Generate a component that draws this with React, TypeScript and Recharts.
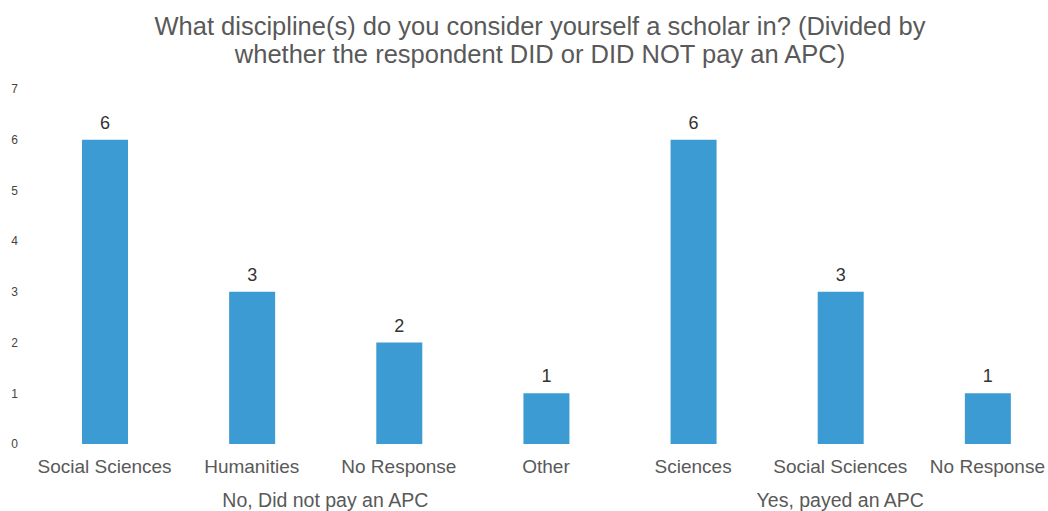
import React from "react";
import { BarChart, Bar, XAxis, YAxis, LabelList } from "recharts";

// Discipline counts split by whether the respondent paid an APC
const categories = [
  "Social Sciences",
  "Humanities",
  "No Response",
  "Other",
  "Sciences",
  "Social Sciences",
  "No Response",
];
const counts = [6, 3, 2, 1, 6, 3, 1];
const groupLabels = ["No, Did not pay an APC", "Yes, payed an APC"];
// group index of each category
const groupOf = [0, 0, 0, 0, 1, 1, 1];
const yTicks = [0, 1, 2, 3, 4, 5, 6, 7];

const data = categories.map((name, i) => ({ id: i, name, count: counts[i], group: groupOf[i] }));

const CHART_W = 1064;
const CHART_H = 511;
const X_AXIS_H = 30;
const MARGIN = { top: 89, right: 3, left: 0, bottom: 67 - X_AXIS_H };
const Y_AXIS_W = 31;
const PLOT_W = CHART_W - MARGIN.left - MARGIN.right - Y_AXIS_W;
const BAND = PLOT_W / categories.length;

const TEXT = "#595959";

const CategoryTick = (props: any) => {
  const { x, y, payload } = props;
  const i = payload.index;
  const g = groupOf[i];
  const members = groupOf.map((v, k) => (v === g ? k : -1)).filter((k) => k >= 0);
  const first = members[0];
  const last = members[members.length - 1];
  const isAnchor = i === first;
  const groupCenter = x + ((first + last) / 2 - i) * BAND;
  return (
    <g>
      <text x={x} y={y} dy={21} textAnchor="middle" fontSize={19} fill={TEXT}>
        {categories[i]}
      </text>
      {isAnchor && (
        <text x={groupCenter} y={y} dy={55} textAnchor="middle" fontSize={19.5} fill={TEXT}>
          {groupLabels[g]}
        </text>
      )}
    </g>
  );
};

export default function App() {
  return (
    <div
      style={{
        position: "absolute",
        left: 0,
        top: 0,
        width: 1048,
        height: 511,
        overflow: "hidden",
        background: "#fff",
        fontFamily: "'Liberation Sans', Arial, sans-serif",
      }}
    >
      <div
        style={{
          position: "absolute",
          left: 0,
          top: 12,
          width: 1080,
          textAlign: "center",
          fontSize: 25.5,
          lineHeight: "28px",
          color: TEXT,
        }}
      >
        What discipline(s) do you consider yourself a scholar in? (Divided by
        <br />
        whether the respondent DID or DID NOT pay an APC)
      </div>
      <BarChart width={CHART_W} height={CHART_H} data={data} margin={MARGIN}>
        <XAxis
          dataKey="id"
          height={X_AXIS_H}
          axisLine={false}
          tickLine={false}
          interval={0}
          tick={<CategoryTick />}
        />
        <YAxis
          width={Y_AXIS_W}
          domain={[0, 7]}
          ticks={yTicks}
          axisLine={false}
          tickLine={false}
          tickMargin={7}
          tick={{ fontSize: 12, fill: "#444" }}
        />
        <Bar dataKey="count" fill="#3d9bd3" barSize={46} isAnimationActive={false}>
          <LabelList dataKey="count" position="top" offset={11} fontSize={18} fill="#333" />
        </Bar>
      </BarChart>
    </div>
  );
}
